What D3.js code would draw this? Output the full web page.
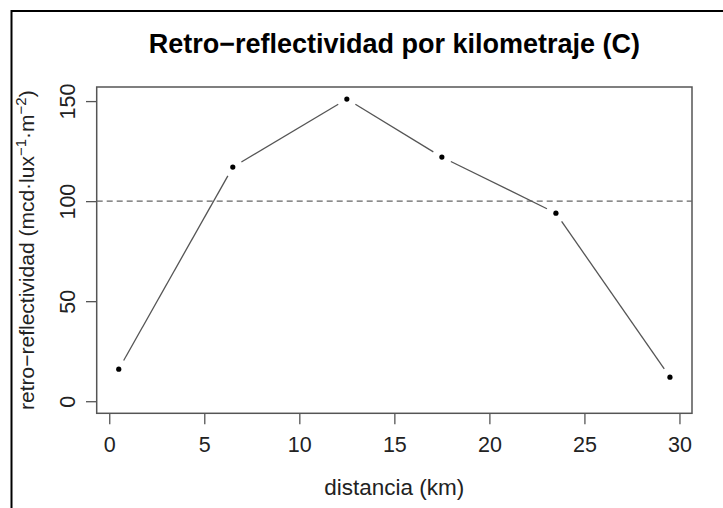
<!DOCTYPE html>
<html>
<head>
<meta charset="utf-8">
<script src="https://cdn.jsdelivr.net/npm/d3@7"></script>
<style>
    body { margin: 0; background: #fff; }
    #chart { width: 723px; height: 508px; }
    text { font-family: "Liberation Sans", Arial, sans-serif; }
</style>
</head>
<body>
<div id="chart"></div>
<script>
// Data
const distances = [0.5, 6.5, 12.5, 17.5, 23.5, 29.5];
const retroValues = [16, 117, 151, 122, 94, 12];
const xTicks = [0, 5, 10, 15, 20, 25, 30];
const yTicks = [0, 50, 100, 150];
const referenceLevel = 100;

// Define a class named LineVis
class LineVis {

    constructor(parentElement, xs, ys) {
        this.parentElement = parentElement;
        this.data = xs.map((x, i) => ({ x: x, y: ys[i] }));
        this.initVis();
    }

    initVis() {
        let vis = this;

        // Plot box in pixels
        vis.box = { left: 96.7, right: 692, top: 87, bottom: 413.3 };

        vis.svg = d3.select("#" + vis.parentElement).append("svg")
            .attr("width", 723)
            .attr("height", 508);

        // Outer frame (top and left edges only are visible)
        vis.svg.append("path")
            .attr("d", "M11.5,520 L11.5,11 L723,11")
            .attr("fill", "none")
            .attr("stroke", "#000")
            .attr("stroke-width", 2);

        // Scales: R style 4% padding
        let xExt = d3.extent(vis.data, d => d.x);
        let xPad = (xExt[1] - xExt[0]) * 0.04;
        vis.xScale = d3.scaleLinear()
            .domain([xExt[0] - xPad, xExt[1] + xPad])
            .range([vis.box.left, vis.box.right]);

        let yMax = d3.max(vis.data, d => d.y);
        let yPad = yMax * 0.04;
        vis.yScale = d3.scaleLinear()
            .domain([-yPad, yMax + yPad])
            .range([vis.box.bottom, vis.box.top]);

        this.updateVis();
    }

    updateVis() {
        let vis = this;

        // Axes
        let xAxis = d3.axisBottom(vis.xScale)
            .tickValues(xTicks)
            .tickSize(11)
            .tickSizeOuter(0)
            .tickPadding(12);

        let yAxis = d3.axisLeft(vis.yScale)
            .tickValues(yTicks)
            .tickSize(10.7)
            .tickSizeOuter(0);

        vis.xAxisGroup = vis.svg.append("g")
            .attr("transform", `translate(0, ${vis.box.bottom})`)
            .call(xAxis);

        vis.yAxisGroup = vis.svg.append("g")
            .attr("transform", `translate(${vis.box.left}, 0)`)
            .call(yAxis);

        [vis.xAxisGroup, vis.yAxisGroup].forEach(g => {
            g.select(".domain").remove();
            g.selectAll(".tick line").attr("stroke", "#555").attr("stroke-width", 1.3);
            g.selectAll(".tick text")
                .attr("fill", "#222")
                .style("font-size", "21.5px")
                .style("font-family", "'Liberation Sans', Arial, sans-serif");
        });

        // Rotated y tick labels, like R las = 0
        vis.yAxisGroup.selectAll(".tick text")
            .attr("transform", "rotate(-90)")
            .attr("x", 0)
            .attr("y", -21.7)
            .attr("dy", 0)
            .attr("text-anchor", "middle");

        // Plot box
        vis.svg.append("rect")
            .attr("x", vis.box.left)
            .attr("y", vis.box.top)
            .attr("width", vis.box.right - vis.box.left)
            .attr("height", vis.box.bottom - vis.box.top)
            .attr("fill", "none")
            .attr("stroke", "#555")
            .attr("stroke-width", 1.5);

        // Dashed reference line
        vis.svg.append("line")
            .attr("x1", vis.box.left)
            .attr("x2", vis.box.right)
            .attr("y1", vis.yScale(referenceLevel))
            .attr("y2", vis.yScale(referenceLevel))
            .attr("stroke", "#666")
            .attr("stroke-width", 1.3)
            .attr("stroke-dasharray", "6,4");

        // Line segments with gaps around the points (type = "b")
        let gap = 10;
        let segments = d3.pairs(vis.data).map(([a, b]) => {
            let x1 = vis.xScale(a.x), y1 = vis.yScale(a.y);
            let x2 = vis.xScale(b.x), y2 = vis.yScale(b.y);
            let len = Math.hypot(x2 - x1, y2 - y1);
            let ux = (x2 - x1) / len, uy = (y2 - y1) / len;
            return { x1: x1 + ux * gap, y1: y1 + uy * gap, x2: x2 - ux * gap, y2: y2 - uy * gap };
        });

        vis.svg.selectAll(".seg")
            .data(segments)
            .enter()
            .append("line")
            .attr("class", "seg")
            .attr("x1", d => d.x1)
            .attr("y1", d => d.y1)
            .attr("x2", d => d.x2)
            .attr("y2", d => d.y2)
            .attr("stroke", "#555")
            .attr("stroke-width", 1.3);

        // Points
        vis.svg.selectAll(".pt")
            .data(vis.data)
            .enter()
            .append("circle")
            .attr("class", "pt")
            .attr("cx", d => vis.xScale(d.x))
            .attr("cy", d => vis.yScale(d.y))
            .attr("r", 2.6)
            .attr("fill", "#000");

        let midX = (vis.box.left + vis.box.right) / 2;
        let midY = (vis.box.top + vis.box.bottom) / 2;

        // Title
        vis.svg.append("text")
            .attr("x", midX)
            .attr("y", 53)
            .attr("text-anchor", "middle")
            .style("font-size", "27px")
            .style("font-weight", "bold")
            .attr("fill", "#000")
            .text("Retro\u2212reflectividad por kilometraje (C)");

        // Axis titles
        vis.svg.append("text")
            .attr("x", midX)
            .attr("y", 495)
            .attr("text-anchor", "middle")
            .style("font-size", "22.5px")
            .attr("fill", "#222")
            .text("distancia (km)");

        let yLabel = vis.svg.append("text")
            .attr("transform", `translate(34, ${midY}) rotate(-90)`)
            .attr("text-anchor", "middle")
            .style("font-size", "21px")
            .attr("fill", "#222");

        yLabel.append("tspan").text("retro\u2212reflectividad (mcd\u00b7lux");
        yLabel.append("tspan").attr("dy", -8).style("font-size", "15px").text("\u22121");
        yLabel.append("tspan").attr("dy", 8).text("\u00b7m");
        yLabel.append("tspan").attr("dy", -8).style("font-size", "15px").text("\u22122");
        yLabel.append("tspan").attr("dy", 8).text(")");
    }
}

new LineVis("chart", distances, retroValues);
</script>
</body>
</html>
